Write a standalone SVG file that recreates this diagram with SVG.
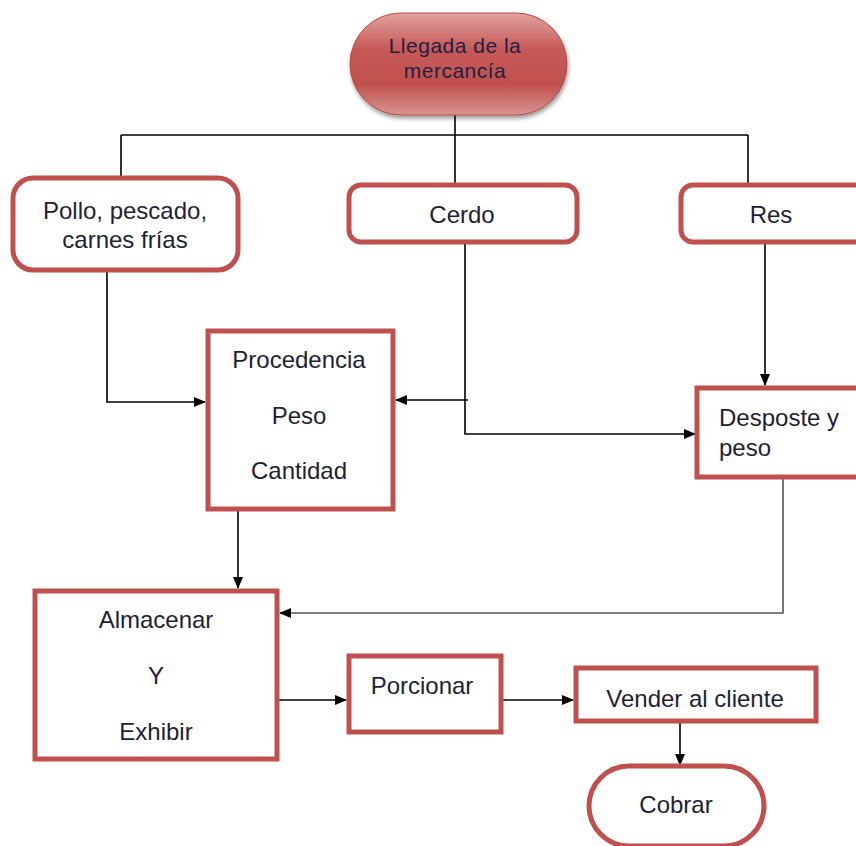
<svg xmlns="http://www.w3.org/2000/svg" width="856" height="846" viewBox="0 0 856 846">
<style>
.box{fill:#fff;stroke:#c0504d;stroke-width:5}
.t{font-family:"Liberation Sans","Open Sans",sans-serif;font-size:24px;fill:#1e1e38;text-anchor:middle}
.tl{font-family:"Liberation Sans","Open Sans",sans-serif;font-size:24px;fill:#1e1e38}
.c{fill:none;stroke:#000;stroke-width:1.6}
</style>
<defs>
<linearGradient id="g" x1="0" y1="0" x2="0" y2="1">
<stop offset="0" stop-color="#e2a2a0"/>
<stop offset="0.35" stop-color="#c65a57"/>
<stop offset="0.7" stop-color="#c0504d"/>
<stop offset="1" stop-color="#d99593"/>
</linearGradient>
<filter id="sh" x="-10%" y="-10%" width="130%" height="140%">
<feGaussianBlur in="SourceAlpha" stdDeviation="2"/>
<feOffset dx="1" dy="3"/>
<feComponentTransfer><feFuncA type="linear" slope="0.4"/></feComponentTransfer>
<feMerge><feMergeNode/><feMergeNode in="SourceGraphic"/></feMerge>
</filter>
<marker id="a" markerWidth="12" markerHeight="10" refX="11" refY="5" orient="auto" markerUnits="userSpaceOnUse">
<path d="M0,0 L12,5 L0,10 z" fill="#000"/>
</marker>
</defs>

<g id="connectors">
<path class="c" d="M455,115 V135 M121,135 H748 M121,135 V177 M455,135 V185 M748,135 V185"/>
<path class="c" d="M107,270 V402 H205" marker-end="url(#a)"/>
<path class="c" d="M465,242 V434 H695" marker-end="url(#a)"/>
<path class="c" d="M468,400 H396" marker-end="url(#a)"/>
<path class="c" d="M765,242 V385" marker-end="url(#a)"/>
<path class="c" style="stroke:#555" d="M783,478 V613 H280" marker-end="url(#a)"/>
<path class="c" d="M238,510 V588" marker-end="url(#a)"/>
<path class="c" d="M278,700 H346" marker-end="url(#a)"/>
<path class="c" d="M502,700 H573" marker-end="url(#a)"/>
<path class="c" d="M680,722 V765" marker-end="url(#a)"/>
</g>

<g id="llegada">
<rect x="350" y="13" width="217" height="102" rx="51" fill="url(#g)" stroke="#b84a47" stroke-width="1" filter="url(#sh)"/>
<text class="t" x="455" y="53" style="font-size:21px;fill:#1f1f45;letter-spacing:0.5px">Llegada de la</text>
<text class="t" x="455" y="78" style="font-size:21px;fill:#1f1f45;letter-spacing:0.5px">mercancía</text>
</g>

<g id="pollo">
<rect class="box" x="13" y="178" width="225" height="92" rx="20"/>
<text class="t" x="125" y="219">Pollo, pescado,</text>
<text class="t" x="125" y="248">carnes frías</text>
</g>

<g id="cerdo">
<rect class="box" x="349" y="185" width="228" height="57" rx="12"/>
<text class="t" x="462" y="223">Cerdo</text>
</g>

<g id="res">
<rect class="box" x="681" y="185" width="190" height="57" rx="12"/>
<text class="t" x="771" y="223">Res</text>
</g>

<g id="procedencia">
<rect class="box" x="208" y="331" width="185" height="178"/>
<text class="t" x="299" y="368">Procedencia</text>
<text class="t" x="299" y="424">Peso</text>
<text class="t" x="299" y="479">Cantidad</text>
</g>

<g id="desposte">
<rect class="box" x="697" y="388" width="170" height="89"/>
<text class="tl" x="719" y="426">Desposte y</text>
<text class="tl" x="719" y="456">peso</text>
</g>

<g id="almacenar">
<rect class="box" x="35" y="591" width="242" height="168"/>
<text class="t" x="156" y="628">Almacenar</text>
<text class="t" x="156" y="684">Y</text>
<text class="t" x="156" y="740">Exhibir</text>
</g>

<g id="porcionar">
<rect class="box" x="349" y="656" width="152" height="76"/>
<text class="t" x="422" y="694">Porcionar</text>
</g>

<g id="vender">
<rect class="box" x="576" y="668" width="240" height="53"/>
<text class="t" x="695" y="707">Vender al cliente</text>
</g>

<g id="cobrar">
<rect class="box" x="589" y="766" width="175" height="80" rx="40"/>
<text class="t" x="676" y="813">Cobrar</text>
</g>
</svg>
